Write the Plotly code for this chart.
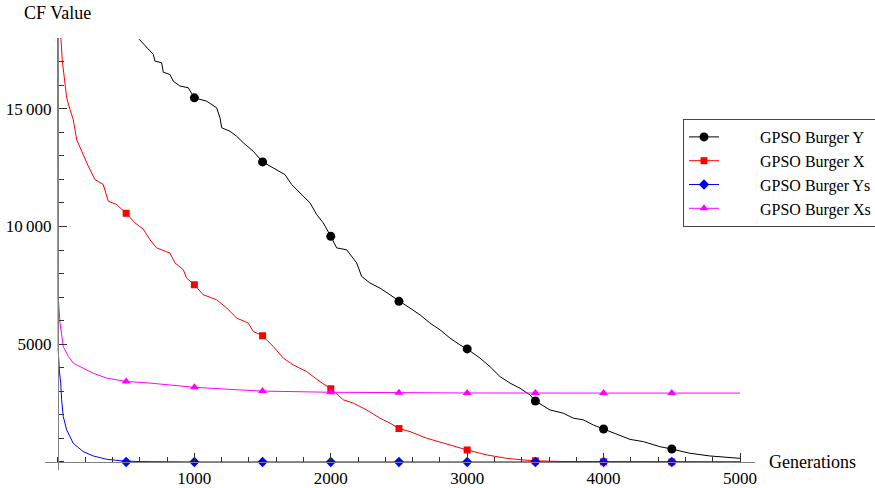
import plotly.graph_objects as go

# ---------------- data ----------------
series_names = ["GPSO Burger Y", "GPSO Burger X", "GPSO Burger Ys", "GPSO Burger Xs"]

gens_y = [595, 601, 638, 699, 711, 760, 772, 821, 845, 894, 955, 1000, 1090, 1163, 1188, 1200,
          1261, 1310, 1359, 1432, 1500, 1579, 1664, 1713, 1774, 1848, 1897, 1945, 2000, 2043,
          2116, 2190, 2226, 2287, 2361, 2434, 2500, 2581, 2654, 2727, 2801, 2874, 2947, 3000,
          3094, 3167, 3240, 3314, 3387, 3460, 3500, 3607, 3705, 3778, 3851, 3925, 4000, 4096,
          4194, 4291, 4413, 4500, 4633, 4780, 5000]
vals_y = [17950, 17910, 17660, 17300, 17020, 16950, 16550, 16450, 16170, 15960, 15890, 15460,
          15320, 15040, 14610, 14190, 14040, 13830, 13550, 13190, 12740, 12490, 12200, 11780,
          11420, 11000, 10500, 10150, 9580, 9090, 9010, 8450, 7880, 7600, 7380, 7100, 6820,
          6540, 6250, 5900, 5610, 5260, 4970, 4800, 4410, 4050, 3630, 3350, 3130, 2850, 2590,
          2210, 2070, 1860, 1790, 1570, 1400, 1150, 960, 865, 650, 550, 370, 255, 155]

gens_x = [18, 22, 32, 51, 64, 88, 112, 137, 174, 222, 271, 332, 369, 430, 500, 565, 625, 674,
          723, 821, 858, 919, 943, 1000, 1065, 1163, 1237, 1310, 1395, 1432, 1500, 1579, 1652,
          1725, 1823, 1921, 2000, 2092, 2165, 2263, 2361, 2434, 2500, 2581, 2703, 2825, 2923,
          3000, 3143, 3290, 3412, 3500, 3700, 4000, 4500, 5000]
vals_x = [18100, 17940, 17020, 16030, 15460, 14970, 14540, 13690, 13190, 12560, 11990, 11780,
          11070, 10930, 10560, 10150, 9890, 9440, 9090, 8870, 8450, 8160, 7810, 7525, 7100,
          6890, 6540, 6110, 5900, 5540, 5360, 4900, 4410, 4120, 3840, 3410, 3110, 2640, 2500,
          2210, 1860, 1650, 1420, 1290, 1010, 795, 625, 510, 300, 155, 85, 50, 20, 8, 2, 0]

gens_ys = [0, 2, 10, 20, 27, 39, 64, 112, 185, 259, 357, 455, 600, 1000, 5000]
vals_ys = [19500, 4760, 3900, 3350, 2640, 1930, 1360, 795, 440, 255, 115, 55, 15, 0, 0]

gens_xs = [0, 2, 15, 39, 76, 112, 185, 259, 357, 500, 674, 845, 1000, 1334, 1500, 2000, 2361,
           2500, 3000, 4000, 5000]
vals_xs = [19500, 7030, 5900, 4900, 4480, 4200, 3980, 3770, 3560, 3420, 3350, 3270, 3170,
           3060, 3010, 2960, 2945, 2935, 2930, 2925, 2925]

# marker samples (every 500 generations)
mk_gens_y = [1000, 1500, 2000, 2500, 3000, 3500, 4000, 4500]
mk_vals_y = [15460, 12740, 9580, 6820, 4800, 2590, 1400, 550]
mk_gens = [500, 1000, 1500, 2000, 2500, 3000, 3500, 4000, 4500]
mk_vals_x = [10560, 7525, 5360, 3110, 1420, 510, 50, 8, 2]
mk_vals_ys = [0, 0, 0, 0, 0, 0, 0, 0, 0]
mk_vals_xs = [3420, 3170, 3010, 2960, 2935, 2930, 2925, 2925, 2925]

x_tickvals = [1000, 2000, 3000, 4000, 5000]
x_ticktext = ["1000", "2000", "3000", "4000", "5000"]
y_tickvals = [5000, 10000, 15000]
y_ticktext = ["5000", "10\u2009000", "15\u2009000"]

# ---------------- styles ----------------
FONT = "Liberation Serif, Times New Roman, Times, DejaVu Serif, serif"
colors = ["#000000", "#ff0000", "#0000ff", "#ff00ff"]
symbols = ["circle", "square", "diamond", "triangle-up"]
msizes = [9, 7, 8, 8]

X_RANGE = [-95, 5110]
Y_RANGE = [-340, 18000]

W, H = 875, 488
PX_L, PX_R, PX_T, PX_B = 45, 755, 38, 470   # plot-area pixel box

fig = go.Figure()

lines = [(gens_y, vals_y), (gens_x, vals_x), (gens_ys, vals_ys), (gens_xs, vals_xs)]
marks = [(mk_gens_y, mk_vals_y), (mk_gens, mk_vals_x), (mk_gens, mk_vals_ys), (mk_gens, mk_vals_xs)]

for i in range(4):
    gx, gv = lines[i]
    fig.add_trace(go.Scatter(x=gx, y=gv, mode="lines", showlegend=False,
                             line=dict(color=colors[i], width=1), hoverinfo="skip"))
    mx, mv = marks[i]
    fig.add_trace(go.Scatter(x=mx, y=mv, mode="markers", showlegend=False,
                             marker=dict(color=colors[i], symbol=symbols[i], size=msizes[i],
                                         line=dict(width=0))))

PAD = "\u00a0" * 9
for i in range(4):
    fig.add_trace(go.Scatter(x=[None], y=[None], mode="lines+markers", name=PAD + series_names[i],
                             line=dict(color=colors[i], width=1),
                             marker=dict(color=colors[i], symbol=symbols[i], size=msizes[i])))

yfrac0 = (0 - Y_RANGE[0]) / (Y_RANGE[1] - Y_RANGE[0])
xfrac0 = (0 - X_RANGE[0]) / (X_RANGE[1] - X_RANGE[0])
xdom = [PX_L / W, PX_R / W]
ydom = [1 - PX_B / H, 1 - PX_T / H]
# free-axis positions in paper coordinates
x_axis_pos = ydom[0] + yfrac0 * (ydom[1] - ydom[0])
y_axis_pos = xdom[0] + xfrac0 * (xdom[1] - xdom[0])

fig.update_layout(
    width=W, height=H,
    margin=dict(l=0, r=0, t=0, b=0, pad=0, autoexpand=False),
    plot_bgcolor="white", paper_bgcolor="white",
    font=dict(family=FONT, size=16, color="black"),
    xaxis=dict(domain=xdom, range=X_RANGE, anchor="free", position=x_axis_pos,
               showgrid=False, zeroline=False,
               showline=True, linecolor="#7f7f7f", linewidth=1,
               ticks="inside", ticklen=9, tickwidth=1, tickcolor="#333333",
               tickvals=x_tickvals, ticktext=x_ticktext, ticklabelstandoff=1,
               minor=dict(dtick=200, tick0=0, ticks="inside", ticklen=5, tickcolor="#333333",
                          showgrid=False),
               tickfont=dict(family=FONT, size=17, color="black")),
    yaxis=dict(domain=ydom, range=Y_RANGE, anchor="free", position=y_axis_pos,
               showgrid=False, zeroline=False,
               showline=True, linecolor="#7f7f7f", linewidth=1,
               ticks="inside", ticklen=8, tickwidth=1, tickcolor="#333333",
               tickvals=y_tickvals, ticktext=y_ticktext, ticklabelstandoff=3,
               minor=dict(dtick=1000, tick0=0, ticks="inside", ticklen=5, tickcolor="#333333",
                          showgrid=False),
               tickfont=dict(family=FONT, size=17, color="black")),
    legend=dict(x=683 / W, y=1 - 119 / H, xanchor="left", yanchor="top",
                bordercolor="#444444", borderwidth=1, bgcolor="white",
                font=dict(family=FONT, size=16, color="black")),
    annotations=[
        dict(text="CF Value", x=57 / W, y=1 - 13 / H, xref="paper", yref="paper",
             xanchor="center", yanchor="middle", showarrow=False,
             font=dict(family=FONT, size=18, color="black")),
        dict(text="Generations", x=767 / W, y=1 - 462 / H, xref="paper", yref="paper",
             xanchor="left", yanchor="middle", showarrow=False,
             font=dict(family=FONT, size=18, color="black")),
    ],
)

fig.write_html("out.html")
